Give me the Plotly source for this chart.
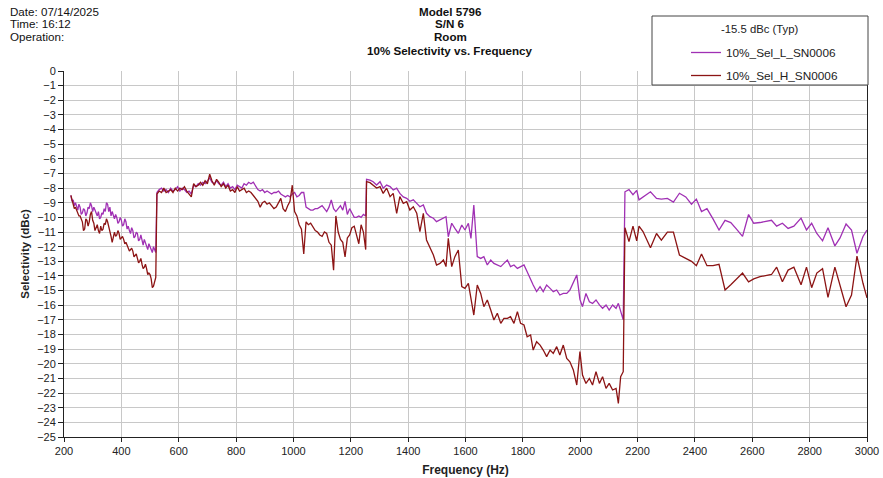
import plotly.graph_objects as go

# ---------------- data ----------------
FREQ_SEG1 = list(range(224, 521, 4))
SEL_L_SEG1 = [-8.5, -8.9, -8.8, -9.2, -9.0, -9.3, -9.5, -9.1, -9.3, -9.8,
              -9.7, -9.4, -9.5, -9.9, -9.7, -9.3, -9.4, -9.0, -9.2, -9.6,
              -9.3, -9.5, -9.8, -9.9, -9.6, -10.1, -10.0, -9.7, -9.8, -9.4,
              -9.6, -9.0, -9.1, -9.6, -9.3, -9.9, -9.6, -9.9, -10.1, -9.8,
              -10.0, -10.4, -10.3, -10.0, -10.2, -10.6, -10.5, -10.1, -10.3, -10.8,
              -10.6, -10.9, -11.1, -10.7, -10.9, -11.4, -11.3, -11.0, -11.1, -11.6,
              -11.5, -11.2, -11.6, -11.9, -11.5, -11.8, -11.9, -12.2, -11.8, -12.0,
              -12.1, -12.4, -12.0, -12.3, -12.4]
SEL_H_SEG1 = [-8.5, -8.8, -9.0, -9.4, -9.3, -9.5, -9.6, -9.9, -9.9, -10.2,
              -10.3, -10.9, -10.8, -10.1, -10.2, -10.6, -10.3, -9.8, -9.6, -10.2,
              -10.4, -10.9, -10.7, -10.5, -10.9, -11.1, -10.6, -10.9, -10.8, -10.4,
              -10.5, -10.1, -10.3, -10.6, -10.9, -11.3, -11.7, -11.2, -11.0, -11.3,
              -11.2, -10.9, -11.1, -11.5, -11.4, -11.3, -11.5, -11.8, -11.7, -11.9,
              -12.0, -12.3, -12.2, -12.1, -12.3, -12.7, -12.6, -12.5, -12.8, -13.1,
              -13.0, -12.8, -13.2, -13.5, -13.4, -13.2, -13.5, -13.9, -13.8, -13.9,
              -14.2, -14.8, -14.7, -14.3, -14.1]

FREQ_SEG2 = list(range(524, 1253, 8))
SEL_L_SEG2 = [-8.3, -8.1, -8.0, -8.2, -8.1, -8.3, -8.0, -8.2, -8.1, -7.9,
              -8.2, -8.0, -8.1, -8.3, -8.2, -8.4, -7.8, -7.9, -7.7, -7.8,
              -7.6, -7.7, -7.5, -7.3, -7.6, -7.7, -7.5, -7.7, -7.8, -7.6,
              -7.9, -7.7, -8.0, -7.9, -8.1, -7.8, -7.9, -8.0, -7.7, -7.8,
              -7.6, -7.7, -7.6, -7.9, -8.1, -8.2, -8.1, -8.3, -8.2, -8.3,
              -8.4, -8.3, -8.3, -8.2, -8.4, -8.5, -8.6, -8.5, -8.6, -8.4,
              -8.3, -8.6, -8.5, -8.3, -8.3, -9.3, -9.4, -9.5, -9.5, -9.4,
              -9.4, -9.3, -9.2, -9.4, -9.6, -9.3, -8.8, -9.4, -9.6, -9.4,
              -9.2, -9.5, -8.9, -9.8, -9.4, -9.7, -10.0, -10.0, -9.9, -10.0,
              -9.8, -9.9]
SEL_H_SEG2 = [-8.4, -8.2, -8.3, -8.0, -8.3, -8.2, -8.1, -8.3, -8.0, -8.2,
              -8.0, -8.1, -7.9, -8.2, -8.4, -8.6, -7.7, -7.9, -7.8, -7.6,
              -7.8, -7.5, -7.7, -7.05, -7.5, -7.8, -7.4, -7.6, -7.9, -7.7,
              -8.0, -7.8, -8.2, -8.1, -8.3, -7.9, -8.2, -8.1, -8.0, -8.3,
              -8.2, -8.3, -8.5, -8.7, -8.9, -9.3, -9.0, -8.9, -9.1, -9.0,
              -9.2, -9.4, -9.3, -9.0, -8.7, -9.4, -9.6, -9.2, -8.9, -7.8,
              -9.6, -9.9, -10.5, -10.8, -12.5, -10.3, -10.5, -10.4, -10.7, -10.9,
              -11.0, -11.2, -11.3, -11.0, -11.1, -11.7, -11.9, -13.6, -9.9, -11.0,
              -11.5, -11.7, -12.7, -11.4, -11.2, -10.7, -10.6, -11.2, -11.8, -10.5,
              -11.0, -12.2]

FREQ_SEG3 = [1255, 1267, 1278, 1290, 1302, 1313, 1325, 1337, 1348, 1360,
             1371, 1383, 1395, 1406, 1418, 1430, 1441, 1453, 1464, 1476,
             1488, 1499, 1511, 1523, 1532, 1540, 1552, 1563, 1575, 1587,
             1598, 1610, 1619, 1629, 1641, 1653, 1664, 1676, 1688, 1699,
             1711, 1723, 1734, 1746, 1757, 1769, 1781, 1792, 1804, 1815,
             1827, 1836, 1848, 1860, 1871, 1883, 1895, 1906, 1918, 1929,
             1941, 1953, 1964, 1976, 1988, 1999, 2008, 2020, 2032, 2043,
             2055, 2067, 2078, 2090, 2101, 2113, 2125, 2133, 2141, 2150]
SEL_L_SEG3 = [-7.40, -7.45, -7.56, -7.79, -7.56, -8.00, -7.79, -7.90, -8.13, -8.00,
              -8.36, -8.60, -8.70, -8.90, -8.80, -9.04, -9.27, -9.15, -9.72, -9.95,
              -10.06, -10.29, -10.18, -10.06, -9.95, -11.32, -10.40, -10.75, -11.09, -10.52,
              -10.86, -10.40, -11.43, -9.15, -12.68, -12.80, -12.68, -13.25, -12.91, -13.14,
              -13.25, -13.36, -13.14, -12.91, -13.36, -13.25, -13.48, -13.36, -13.25, -13.71,
              -14.28, -14.62, -15.07, -14.73, -15.07, -14.62, -14.85, -15.07, -14.96, -15.30,
              -15.19, -15.19, -14.96, -14.50, -13.93, -15.60, -16.10, -15.19, -15.76, -15.87,
              -15.64, -15.98, -16.21, -15.98, -16.33, -15.98, -16.21, -15.87, -16.44, -17.00]
SEL_H_SEG3 = [-7.56, -7.63, -7.79, -8.00, -7.90, -8.36, -8.00, -8.58, -8.36, -9.72,
              -8.58, -9.04, -8.93, -9.50, -9.27, -9.72, -10.97, -9.72, -11.54, -12.00,
              -12.57, -13.25, -13.14, -12.91, -13.36, -11.43, -13.36, -12.68, -12.23, -14.73,
              -14.85, -14.50, -15.41, -16.67, -14.62, -15.19, -16.10, -15.64, -16.33, -17.01,
              -16.55, -17.24, -16.90, -16.90, -16.78, -17.24, -16.44, -17.24, -17.35, -18.15,
              -18.03, -19.06, -18.49, -18.72, -19.06, -19.51, -19.06, -19.29, -18.83, -19.40,
              -18.72, -19.63, -19.86, -20.42, -21.45, -19.17, -20.77, -21.34, -21.00, -21.45,
              -20.54, -21.34, -20.88, -21.68, -21.34, -21.79, -21.68, -22.70, -20.88, -20.54]

FREQ_SEG4 = [2156, 2170, 2184, 2197, 2205, 2219, 2245, 2266, 2283, 2304,
             2325, 2346, 2368, 2388, 2405, 2423, 2442, 2463, 2484, 2505,
             2525, 2545, 2566, 2587, 2605, 2627, 2647, 2667, 2685, 2705,
             2725, 2745, 2770, 2789, 2807, 2825, 2845, 2864, 2888, 2906,
             2927, 2946, 2965, 2986, 3000]
SEL_L_SEG4 = [-8.25, -8.10, -8.45, -8.15, -8.80, -8.60, -8.25, -8.70, -8.75, -8.70,
              -8.95, -8.35, -8.60, -9.10, -8.75, -9.60, -9.40, -10.10, -10.86, -10.20,
              -10.35, -10.80, -11.30, -9.80, -10.40, -10.35, -10.30, -10.20, -10.60, -10.40,
              -10.75, -10.60, -10.05, -10.86, -10.40, -11.10, -11.60, -10.70, -11.95, -11.40,
              -10.45, -10.86, -12.45, -11.30, -10.86]
SEL_H_SEG4 = [-10.70, -11.65, -10.60, -11.60, -10.60, -10.97, -12.07, -11.10, -11.55, -11.00,
              -11.00, -12.57, -12.80, -13.00, -13.30, -12.50, -13.30, -13.30, -13.20, -14.96,
              -14.60, -14.20, -13.80, -14.40, -14.20, -14.05, -13.95, -13.90, -13.40, -14.40,
              -13.60, -13.40, -14.60, -13.40, -14.80, -13.80, -13.50, -15.46, -13.40, -14.70,
              -16.10, -15.30, -12.64, -14.50, -15.50]

FREQ = FREQ_SEG1 + FREQ_SEG2 + FREQ_SEG3 + FREQ_SEG4
SEL_L = SEL_L_SEG1 + SEL_L_SEG2 + SEL_L_SEG3 + SEL_L_SEG4
SEL_H = SEL_H_SEG1 + SEL_H_SEG2 + SEL_H_SEG3 + SEL_H_SEG4

SERIES_NAMES = ["10%_Sel_L_SN0006", "10%_Sel_H_SN0006"]
X_TICKS = list(range(200, 3001, 200))
Y_TICKS = list(range(-25, 1))

TITLE_LINES = ["Model 5796", "S/N 6", "Room", "10% Selectivity vs. Frequency"]
INFO_LINES = ["Date: 07/14/2025", "Time: 16:12", "Operation:"]
LEGEND_HEADER = "-15.5 dBc (Typ)"

# ---------------- figure ----------------
FONT = "Liberation Sans, Arial, sans-serif"
W, H = 883, 478
ML, MR, MT, MB = 64, 16, 71, 41
PW, PH = W - ML - MR, H - MT - MB


def px(x):
    return (x - ML) / PW


def py(y):
    return (H - MB - y) / PH


fig = go.Figure()
fig.add_trace(go.Scatter(x=FREQ, y=SEL_L, mode="lines", name=SERIES_NAMES[0],
                         legendgroup="a", line=dict(color="#a030b4", width=1.3)))
fig.add_trace(go.Scatter(x=FREQ, y=SEL_H, mode="lines", name=SERIES_NAMES[1],
                         legendgroup="b", line=dict(color="#8c1414", width=1.3)))

fig.update_layout(
    width=W, height=H,
    margin=dict(l=ML, r=MR, t=MT, b=MB, pad=0, autoexpand=False),
    paper_bgcolor="white", plot_bgcolor="white",
    font=dict(family=FONT, size=11, color="#222"),
    showlegend=True,
    legend=dict(x=px(686), y=py(38), xanchor="left", yanchor="top",
                bgcolor="rgba(0,0,0,0)", borderwidth=0,
                font=dict(size=11.8, color="#222"), tracegroupgap=4,
                itemwidth=30),
)

fig.update_xaxes(range=[200, 3000], tickvals=X_TICKS, showgrid=True,
                 gridcolor="#c8c8c8", gridwidth=1, zeroline=False,
                 showline=True, linecolor="#222", linewidth=1,
                 ticks="outside", ticklen=4, tickcolor="#222",
                 tickfont=dict(size=11, color="#222"),
                 title=dict(text="<b>Frequency (Hz)</b>", font=dict(size=12), standoff=9))
fig.update_yaxes(range=[-25, 0], tickvals=Y_TICKS, showgrid=True,
                 gridcolor="#c8c8c8", gridwidth=1, zeroline=False,
                 showline=True, linecolor="#222", linewidth=1, mirror=True,
                 ticks="outside", ticklen=5, tickcolor="#222",
                 tickfont=dict(size=11, color="#222"),
                 title=dict(text="<b>Selectivity (dBc)</b>", font=dict(size=11.5), standoff=5))

# titles
for t, yy in zip(TITLE_LINES, [11, 24, 37, 50]):
    fig.add_annotation(text="<b>" + t + "</b>", x=px(450), y=py(yy), xref="paper", yref="paper",
                       showarrow=False, xanchor="center", yanchor="middle",
                       font=dict(size=11.6, color="#111"))
for t, yy in zip(INFO_LINES, [11, 24, 37]):
    fig.add_annotation(text=t, x=px(8), y=py(yy), xref="paper", yref="paper",
                       showarrow=False, xanchor="left", yanchor="middle",
                       font=dict(size=11.6, color="#111"))

# legend frame
fig.add_shape(type="rect", xref="paper", yref="paper",
              x0=px(652), x1=px(868), y0=py(85), y1=py(16),
              line=dict(color="#444", width=1), fillcolor="white", layer="above")
fig.add_annotation(text=LEGEND_HEADER, x=px(759), y=py(29), xref="paper", yref="paper",
                   showarrow=False, xanchor="center", yanchor="middle",
                   font=dict(size=11.3, color="#222"))

fig.write_html("out.html", config={"displayModeBar": False},
               post_script="document.body.style.margin='0';document.body.style.overflow='hidden';")
